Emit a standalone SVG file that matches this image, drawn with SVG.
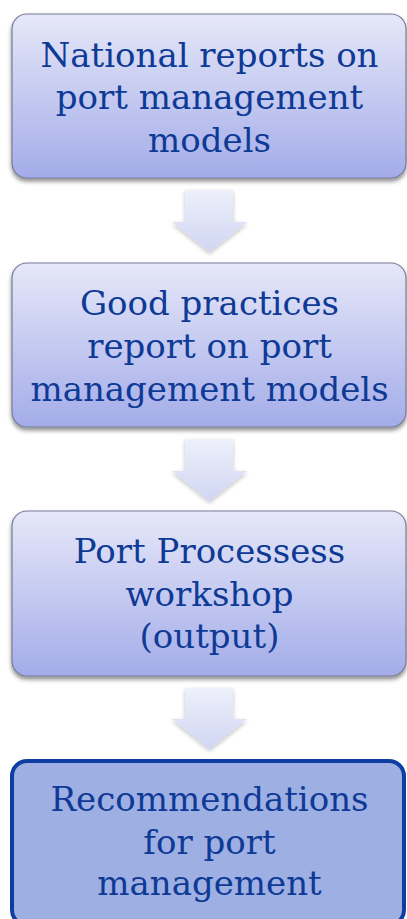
<svg xmlns="http://www.w3.org/2000/svg" width="407" height="919" viewBox="0 0 407 919">
<style>
.box{fill:url(#gBox);stroke:#767b96;stroke-width:1.2;filter:url(#sh);}
.final{fill:#9eafe3;stroke:#0f3ea2;stroke-width:4;}
.arrow{fill:url(#gArr);filter:url(#shA);}
text{font-family:"DejaVu Serif","Liberation Serif",serif;font-size:34px;fill:#0e3a96;text-anchor:middle;}
</style>
<defs>
<linearGradient id="gBox" x1="0" y1="0" x2="0" y2="1">
<stop offset="0" stop-color="#e6e8f8"/>
<stop offset="1" stop-color="#a3ace9"/>
</linearGradient>
<linearGradient id="gArr" x1="0" y1="0" x2="0" y2="1">
<stop offset="0" stop-color="#eef0fa"/>
<stop offset="1" stop-color="#d0d5f3"/>
</linearGradient>
<filter id="sh" x="-10%" y="-10%" width="120%" height="130%">
<feDropShadow dx="0" dy="3" stdDeviation="2" flood-color="#000" flood-opacity="0.45"/>
</filter>
<filter id="shA" x="-20%" y="-20%" width="140%" height="140%">
<feDropShadow dx="0" dy="2" stdDeviation="2" flood-color="#000" flood-opacity="0.25"/>
</filter>
</defs>
<g id="connectors">
<path class="arrow" d="M185 190 H233 V222 H247 L209.5 252 L172 222 H185 Z"/>
<path class="arrow" d="M185 439 H233 V471 H247 L209.5 501 L172 471 H185 Z"/>
<path class="arrow" d="M185 688 H233 V719 H247 L209.5 749 L172 719 H185 Z"/>
</g>
<g id="node1">
<rect class="box" x="12" y="14" width="394" height="164" rx="15"/>
<text x="209.5" y="67">National reports on</text>
<text x="209.5" y="109">port management</text>
<text x="209.5" y="152">models</text>
</g>
<g id="node2">
<rect class="box" x="12" y="263" width="394" height="164" rx="15"/>
<text x="209.5" y="315">Good practices</text>
<text x="209.5" y="358">report on port</text>
<text x="209.5" y="401">management models</text>
</g>
<g id="node3">
<rect class="box" x="12" y="511" width="394" height="165" rx="15"/>
<text x="209.5" y="563">Port Processess</text>
<text x="209.5" y="606">workshop</text>
<text x="209.5" y="648">(output)</text>
</g>
<g id="node4">
<rect class="final" x="12" y="761" width="392" height="164" rx="15"/>
<text x="209.5" y="811">Recommendations</text>
<text x="209.5" y="854">for port</text>
<text x="209.5" y="895">management</text>
</g>
</svg>
